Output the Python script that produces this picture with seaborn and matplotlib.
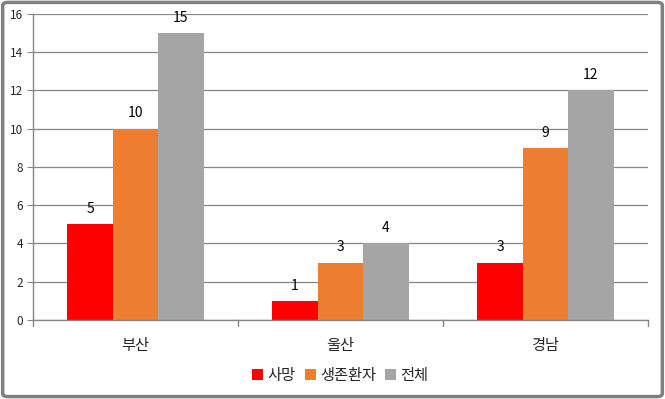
import pandas as pd
import seaborn as sns
import matplotlib.pyplot as plt
from matplotlib.patches import FancyBboxPatch

regions = ["부산", "울산", "경남"]
series = ["사망", "생존환자", "전체"]
death = [5, 1, 3]
survived = [10, 3, 9]
total = [15, 4, 12]
colors = ["#FF0000", "#ED7D31", "#A5A5A5"]

tabela = pd.DataFrame({
    "지역": regions * 3,
    "구분": [series[0]] * 3 + [series[1]] * 3 + [series[2]] * 3,
    "값": death + survived + total,
})

sns.set_style("white")
plt.rcParams["font.family"] = ["Noto Sans CJK KR", "DejaVu Sans"]

fig = plt.figure(figsize=(6.65, 3.99), dpi=100)
ax = fig.add_axes([0.0496, 0.198, 0.9248, 0.767])

grafico = sns.barplot(data=tabela, x="지역", y="값", hue="구분", palette=colors,
                      width=0.665, gap=0, saturation=1, linewidth=0, ax=ax, legend=True)

for c in ax.containers:
    ax.bar_label(c, padding=6, fontsize=10, color="black")

ax.set_xlim(-0.5, 2.5)
ax.set_ylim(0, 16)
ax.set_yticks(range(0, 17, 2))
ax.tick_params(axis="y", labelsize=8.5, length=4, color="#868686", pad=3, direction="out", left=True)
ax.set_xticks([0, 1, 2])
ax.set_xticklabels(regions, fontsize=11)
ax.tick_params(axis="x", length=0, pad=12)
for xb in [-0.5, 0.5, 1.5, 2.5]:
    ax.plot([xb, xb], [0, -0.02], transform=ax.get_xaxis_transform(), color="#868686",
            lw=1, clip_on=False)
ax.set_xlabel("")
ax.set_ylabel("")
ax.grid(axis="y", color="#868686", lw=0.9)
ax.set_axisbelow(True)
for s in ["top", "right"]:
    ax.spines[s].set_visible(False)
for s in ["left", "bottom"]:
    ax.spines[s].set_color("#868686")
    ax.spines[s].set_linewidth(1)

ax.legend(loc="center", bbox_to_anchor=(0.5, -0.18), ncol=3, frameon=False,
          fontsize=11, handlelength=0.7, handleheight=0.7, handletextpad=0.3,
          columnspacing=0.6)

fig.patches.append(FancyBboxPatch((0.004, 0.006), 0.992, 0.988,
                                  boxstyle="round,pad=0,rounding_size=0.008",
                                  transform=fig.transFigure, fill=False,
                                  edgecolor="#808080", lw=2.5))

plt.savefig("out.png", dpi=100)
